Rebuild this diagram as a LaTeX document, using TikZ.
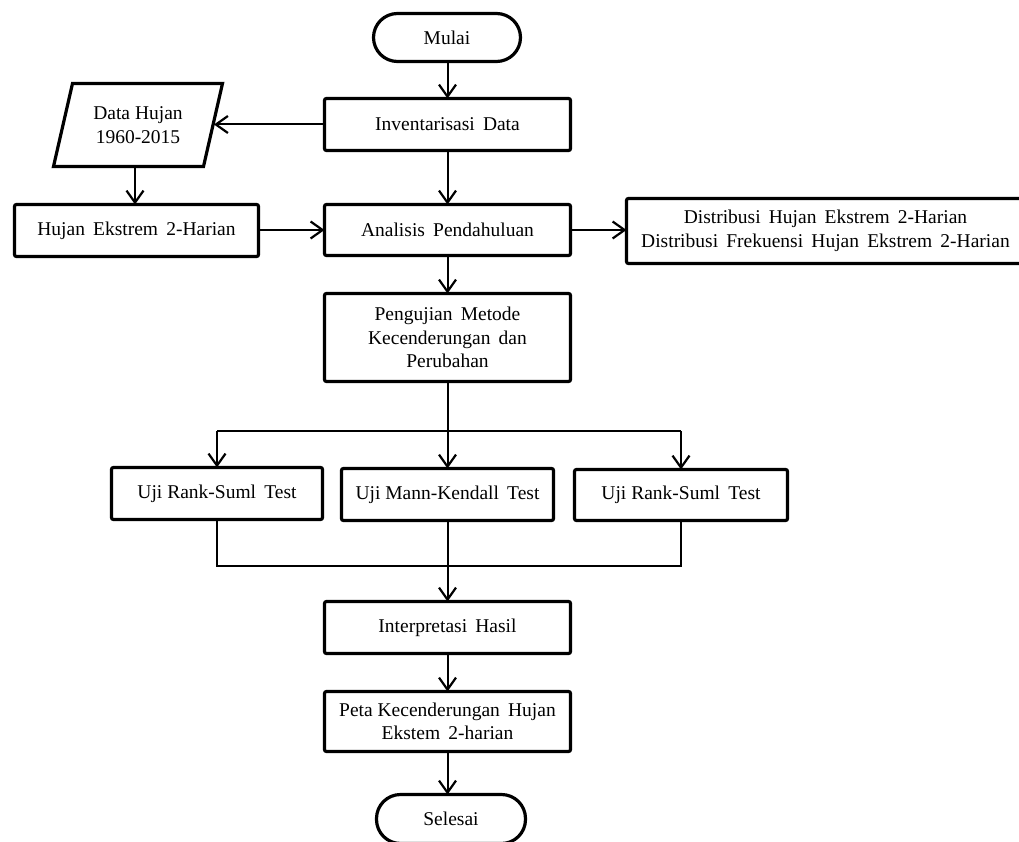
\documentclass[tikz,border=0pt]{standalone}
\usepackage{fontspec}
\setmainfont{Liberation Serif}
\usetikzlibrary{arrows.meta}
\newcommand\ws{\hspace{0.42em}}
\begin{document}
\begin{tikzpicture}[x=1pt,y=-1pt,
  every node/.style={font=\fontsize{19.5}{23.5}\selectfont, inner sep=0pt, outer sep=0pt},
  proc/.style={draw, line width=3.2pt, rounded corners=2pt, align=center},
  term/.style={draw, line width=3.2pt, rounded corners=24pt, align=center},
  conn/.style={line width=2pt},
  arr/.style={conn, -{Straight Barb[length=12pt,width=17pt,line width=2.2pt]}}]
\clip (0,0) rectangle (1019,842);
\fill[white] (0,0) rectangle (1019,842);

% nodes
\node[term, minimum width=147pt, minimum height=48pt] (mulai) at (447,37.5) {Mulai};
\node[proc, minimum width=246pt, minimum height=52pt] (inv) at (447.5,124.5) {Inventarisasi\ws Data};
\draw[line width=3.2pt, line join=miter] (72.5,83.5) -- (222.5,83.5) -- (203.5,166.5) -- (53.5,166.5) -- cycle;
\node[align=center] (data) at (138,125) {Data Hujan\\1960-2015};
\coordinate (dataR) at (214,124.5);
\coordinate (dataB) at (135,166.5);
\node[proc, minimum width=244pt, minimum height=52pt] (hujan) at (136.5,230.5) {Hujan\ws Ekstrem\ws 2-Harian};
\node[proc, minimum width=246pt, minimum height=51pt] (ana) at (447.5,230) {Analisis\ws Pendahuluan};
\node[proc, minimum width=398pt, minimum height=65pt] (dist) at (825.5,231) {Distribusi\ws Hujan\ws Ekstrem\ws 2-Harian\\Distribusi\ws Frekuensi\ws Hujan\ws Ekstrem\ws 2-Harian};
\node[proc, minimum width=246pt, minimum height=88pt] (peng) at (447.5,337.5) {Pengujian\ws Metode\\Kecenderungan\ws dan\\Perubahan};
\node[proc, minimum width=211pt, minimum height=52pt] (u1) at (217,493.5) {Uji Rank-Suml\ws Test};
\node[proc, minimum width=212pt, minimum height=52pt] (u2) at (447.5,494.5) {Uji Mann-Kendall\ws Test};
\node[proc, minimum width=213pt, minimum height=51pt] (u3) at (681,495) {Uji Rank-Suml\ws Test};
\node[proc, minimum width=246pt, minimum height=52pt] (interp) at (447.5,627.5) {Interpretasi\ws Hasil};
\node[proc, minimum width=246pt, minimum height=60pt] (peta) at (447.5,721.5) {Peta Kecenderungan\ws Hujan\\Ekstem\ws 2-harian};
\node[term, minimum width=149pt, minimum height=49pt] (selesai) at (451,819) {Selesai};

% junction coordinates
\coordinate (bC) at (447.5,431);
\coordinate (bL) at (217,431);
\coordinate (bR) at (681,431);
\coordinate (mC) at (447.5,566);
\coordinate (mL) at (217,566);
\coordinate (mR) at (681,566);

% connectors
\draw[arr] (mulai.south -| inv.north) -- (inv.north);
\draw[arr] (inv.west) -- (dataR);
\draw[arr] (dataB) -- (dataB |- hujan.north);
\draw[arr] (inv.south) -- (ana.north);
\draw[arr] (hujan.east |- ana.west) -- (ana.west);
\draw[arr] (ana.east) -- (ana.east -| dist.west);
\draw[arr] (ana.south) -- (peng.north);
\draw[conn] (peng.south) -- (bC);
\draw[conn] (bL) -- (bR);
\draw[arr] (bL) -- (u1.north);
\draw[arr] (bC) -- (u2.north);
\draw[arr] (bR) -- (u3.north);
\draw[conn] (u1.south) -- (mL) -- (mR) -- (u3.south);
\draw[conn] (u2.south) -- (mC);
\draw[arr] (mC) -- (interp.north);
\draw[arr] (interp.south) -- (peta.north);
\draw[arr] (peta.south) -- (peta.south |- selesai.north);
\end{tikzpicture}
\end{document}
